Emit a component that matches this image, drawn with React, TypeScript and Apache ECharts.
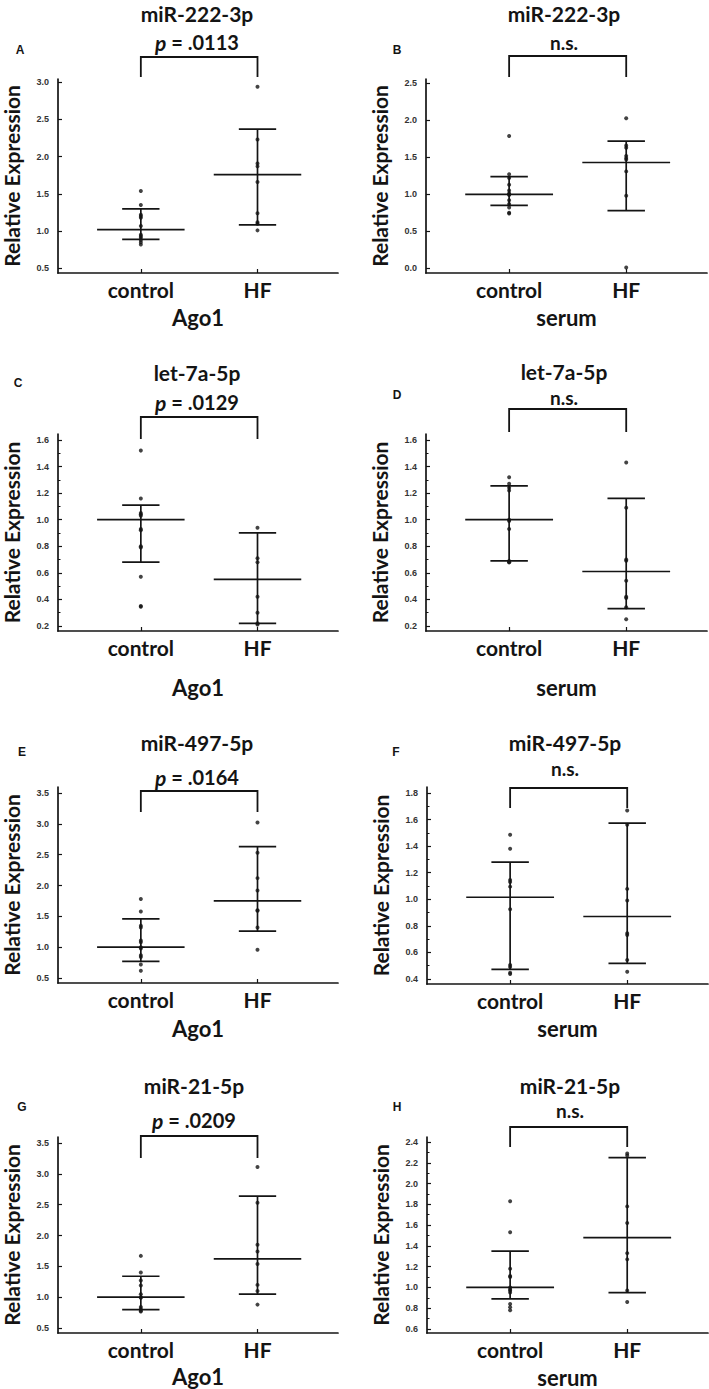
import React, { useEffect, useRef } from "react";
import * as echarts from "echarts";

// ---------- data ----------
const groups = ["control", "HF"];
const yAxisTitle = "Relative Expression";

const panelLetters = ["A", "B", "C", "D", "E", "F", "G", "H"];
const genes = ["miR-222-3p", "miR-222-3p", "let-7a-5p", "let-7a-5p", "miR-497-5p", "miR-497-5p", "miR-21-5p", "miR-21-5p"];
const sources = ["Ago1", "serum", "Ago1", "serum", "Ago1", "serum", "Ago1", "serum"];
const pValues = [".0113", null, ".0129", null, ".0164", null, ".0209", null];

// individual values (control, HF)
const aControl = [1.54, 1.35, 1.22, 1.2, 1.18, 1.07, 0.95, 0.93, 0.91, 0.88, 0.85, 0.82];
const aHF = [2.94, 2.23, 1.91, 1.87, 1.66, 1.24, 1.12, 1.1, 1.01];
const bControl = [1.79, 1.27, 1.22, 1.13, 1.05, 1.01, 1.0, 0.99, 0.92, 0.87, 0.82, 0.75, 0.74];
const bHF = [2.03, 1.66, 1.63, 1.52, 1.49, 1.47, 1.31, 0.98, 0.01];
const cControl = [1.52, 1.16, 1.05, 1.04, 1.03, 0.93, 0.92, 0.8, 0.79, 0.57, 0.35, 0.345];
const cHF = [0.94, 0.71, 0.68, 0.42, 0.3, 0.22, 0.21];
const dControl = [1.32, 1.27, 1.24, 1.22, 1.0, 0.99, 0.93, 0.69, 0.68, 0.68];
const dHF = [1.43, 1.09, 0.7, 0.69, 0.54, 0.42, 0.41, 0.34, 0.25];
const eControl = [1.78, 1.58, 1.35, 1.32, 1.11, 1.08, 1.0, 0.98, 0.87, 0.84, 0.72, 0.62];
const eHF = [3.02, 2.53, 2.12, 1.92, 1.6, 1.59, 1.32, 0.96];
const fControl = [1.485, 1.38, 1.145, 1.13, 1.095, 0.925, 0.505, 0.49, 0.447, 0.437];
const fHF = [1.668, 1.56, 1.078, 0.99, 0.744, 0.731, 0.543, 0.455];
const gControl = [1.67, 1.4, 1.27, 1.19, 1.05, 1.0, 0.99, 0.84, 0.81, 0.78, 0.77];
const gHF = [3.11, 2.53, 1.85, 1.74, 1.54, 1.2, 1.1, 0.88];
const hControl = [1.83, 1.53, 1.18, 1.11, 1.1, 1.0, 0.98, 0.97, 0.95, 0.84, 0.81, 0.78];
const hHF = [2.29, 2.27, 1.78, 1.62, 1.33, 1.27, 0.97, 0.86];

// summary bars: [centre, lower, upper]
const aStats = [[1.02, 0.89, 1.3], [1.76, 1.085, 2.37]];
const bStats = [[1.0, 0.85, 1.24], [1.43, 0.78, 1.72]];
const cStats = [[1.0, 0.68, 1.11], [0.55, 0.22, 0.9]];
const dStats = [[1.0, 0.69, 1.255], [0.61, 0.33, 1.16]];
const eStats = [[1.0, 0.77, 1.46], [1.75, 1.26, 2.63]];
const fStats = [[1.015, 0.472, 1.28], [0.87, 0.518, 1.573]];
const gStats = [[1.0, 0.8, 1.34], [1.62, 1.05, 2.64]];
const hStats = [[1.0, 0.89, 1.35], [1.48, 0.95, 2.25]];

// tick labels
const ticksA = [0.5, 1.0, 1.5, 2.0, 2.5, 3.0];
const ticksB = [0.0, 0.5, 1.0, 1.5, 2.0, 2.5];
const ticksCD = [0.2, 0.4, 0.6, 0.8, 1.0, 1.2, 1.4, 1.6];
const ticksEG = [0.5, 1.0, 1.5, 2.0, 2.5, 3.0, 3.5];
const ticksF = [0.4, 0.6, 0.8, 1.0, 1.2, 1.4, 1.6, 1.8];
const ticksH = [0.6, 0.8, 1.0, 1.2, 1.4, 1.6, 1.8, 2.0, 2.2, 2.4];

const controls = [aControl, bControl, cControl, dControl, eControl, fControl, gControl, hControl];
const hfs = [aHF, bHF, cHF, dHF, eHF, fHF, gHF, hHF];
const stats = [aStats, bStats, cStats, dStats, eStats, fStats, gStats, hStats];
const ticks = [ticksA, ticksB, ticksCD, ticksCD, ticksEG, ticksF, ticksEG, ticksH];

// ---------- layout ----------
const W = 709;
const H = 1389;
const X_MIN = -0.71;
const X_MAX = 1.69;
const GRID_W = 281;
const FONT = "Lato";
const INK = "#141414";

type Lay = {
  left: number; top: number; height: number; yMin: number; yMax: number;
  tx: number; ty: number; py: number; lx: number; ly: number;
  bTop: number; bBot: number; nameGap: number; minor: boolean;
};
const layout: Lay[] = [
  { left: 57, top: 79, height: 194, yMin: 0.437, yMax: 3.044, tx: 197, ty: 13, py: 42, lx: 20, ly: 50, bTop: -22, bBot: -2, nameGap: 33, minor: false },
  { left: 426, top: 79, height: 194, yMin: -0.065, yMax: 2.56, tx: 564, ty: 13, py: 42, lx: 397, ly: 50, bTop: -23, bBot: -2, nameGap: 33, minor: false },
  { left: 57, top: 434, height: 197, yMin: 0.162, yMax: 1.645, tx: 197, ty: 372, py: 402, lx: 18, ly: 383, bTop: -17, bBot: 5, nameGap: 45, minor: true },
  { left: 426, top: 434, height: 197, yMin: 0.162, yMax: 1.645, tx: 564, ty: 371, py: 397, lx: 397, ly: 395, bTop: -25, bBot: -2, nameGap: 45, minor: true },
  { left: 57, top: 787, height: 196, yMin: 0.42, yMax: 3.597, tx: 197, ty: 742, py: 777, lx: 22, ly: 752, bTop: 4, bBot: 25, nameGap: 34, minor: false },
  { left: 427, top: 787, height: 197, yMin: 0.362, yMax: 1.845, tx: 565, ty: 742, py: 768, lx: 396, ly: 752, bTop: 1, bBot: 21, nameGap: 33, minor: true },
  { left: 57, top: 1137, height: 196, yMin: 0.42, yMax: 3.597, tx: 194, ty: 1085, py: 1120, lx: 22, ly: 1107, bTop: -1, bBot: 21, nameGap: 32, minor: false },
  { left: 427, top: 1137, height: 196, yMin: 0.561, yMax: 2.448, tx: 570, ty: 1085, py: 1110, lx: 397, ly: 1107, bTop: -10, bBot: 10, nameGap: 33, minor: true },
];

function buildOption() {
  const grid: any[] = [];
  const xAxis: any[] = [];
  const yAxis: any[] = [];
  const series: any[] = [];
  const graphic: any[] = [];

  layout.forEach((L, i) => {
    grid.push({ left: L.left, top: L.top, width: GRID_W, height: L.height });
    xAxis.push({
      gridIndex: i, type: "value", min: X_MIN, max: X_MAX,
      axisLine: { show: true, onZero: false, lineStyle: { color: INK, width: 1.7 } },
      axisTick: { show: true, inside: true, length: 4, customValues: [0, 1], lineStyle: { color: INK, width: 1.2 } },
      axisLabel: {
        customValues: [0, 1], formatter: (v: number) => groups[Math.round(v)] || "",
        fontFamily: FONT, fontWeight: "bold", fontSize: 21, color: INK, margin: 6,
      },
      splitLine: { show: false },
      name: sources[i], nameLocation: "middle", nameGap: L.nameGap,
      nameTextStyle: { fontFamily: FONT, fontWeight: "bold", fontSize: 22, color: INK },
    });
    const yIdx = yAxis.length;
    yAxis.push({
      gridIndex: i, type: "value", position: "left", min: L.yMin, max: L.yMax,
      axisLine: { show: true, onZero: false, lineStyle: { color: INK, width: 1.7 } },
      axisTick: { show: true, inside: true, length: 4, customValues: ticks[i], lineStyle: { color: INK, width: 1.2 } },
      axisLabel: {
        customValues: ticks[i], formatter: (v: number) => v.toFixed(1),
        fontFamily: "Liberation Sans", fontWeight: "bold", fontSize: 9, color: "#333333", margin: 9,
      },
      splitLine: { show: false },
      name: yAxisTitle, nameLocation: "middle", nameGap: 36,
      nameTextStyle: { fontFamily: FONT, fontWeight: "bold", fontSize: 21, color: INK },
    });
    if (L.minor) {
      const t = ticks[i];
      const minorVals = t.slice(1).map((v, k) => (v + t[k]) / 2);
      yAxis.push({
        gridIndex: i, type: "value", position: "left", offset: 0, min: L.yMin, max: L.yMax,
        axisLine: { show: false, onZero: false },
        axisTick: { show: true, inside: true, length: 2.5, customValues: minorVals, lineStyle: { color: INK, width: 1 } },
        axisLabel: { show: false }, splitLine: { show: false },
      });
    }

    // points
    series.push({
      type: "scatter", xAxisIndex: i, yAxisIndex: yIdx, symbolSize: 4, silent: true,
      itemStyle: { color: INK },
      data: [...controls[i].map((v) => [0, v]), ...hfs[i].map((v) => [1, v])],
    });

    // centre / spread bars
    series.push({
      type: "custom", xAxisIndex: i, yAxisIndex: yIdx, silent: true, clip: false,
      encode: { x: 0, y: [1, 2, 3] },
      data: stats[i].map((s, g) => [g, s[0], s[1], s[2]]),
      renderItem: (_p: any, api: any) => {
        const x = api.value(0), c = api.value(1), lo = api.value(2), hi = api.value(3);
        const a1 = api.coord([x - 0.375, c]), a2 = api.coord([x + 0.375, c]);
        const l1 = api.coord([x - 0.16, lo]), l2 = api.coord([x + 0.16, lo]);
        const h1 = api.coord([x - 0.16, hi]), h2 = api.coord([x + 0.16, hi]);
        const v1 = api.coord([x, lo]), v2 = api.coord([x, hi]);
        const style = { stroke: INK, lineWidth: 1.7, fill: null };
        return {
          type: "group",
          children: [
            { type: "line", shape: { x1: a1[0], y1: a1[1], x2: a2[0], y2: a2[1] }, style },
            { type: "line", shape: { x1: l1[0], y1: l1[1], x2: l2[0], y2: l2[1] }, style },
            { type: "line", shape: { x1: h1[0], y1: h1[1], x2: h2[0], y2: h2[1] }, style },
            { type: "line", shape: { x1: v1[0], y1: v1[1], x2: v2[0], y2: v2[1] }, style },
          ],
        };
      },
    });

    // significance bracket
    series.push({
      type: "custom", xAxisIndex: i, yAxisIndex: yIdx, silent: true, clip: false,
      data: [[0, L.yMax]],
      renderItem: (_p: any, api: any) => {
        const p0 = api.coord([0, L.yMax]);
        const p1 = api.coord([1, L.yMax]);
        const top = p0[1] + L.bTop;
        const bot = p0[1] + L.bBot;
        return {
          type: "polyline",
          shape: { points: [[p0[0], bot], [p0[0], top], [p1[0], top], [p1[0], bot]] },
          style: { stroke: INK, lineWidth: 1.8, fill: null },
        };
      },
    });

    // texts
    graphic.push({
      type: "text", x: L.tx, y: L.ty, silent: true,
      style: { text: genes[i], fontFamily: FONT, fontWeight: "bold", fontSize: 21, fill: INK, align: "center", verticalAlign: "middle" },
    });
    const pv = pValues[i];
    graphic.push({
      type: "text", x: L.tx, y: L.py, silent: true,
      style: pv
        ? {
            text: "{i|p} = " + pv,
            rich: { i: { fontFamily: FONT, fontStyle: "italic", fontWeight: "bold", fontSize: 21, fill: INK } },
            fontFamily: FONT, fontWeight: "bold", fontSize: 20, fill: INK, align: "center", verticalAlign: "middle",
          }
        : { text: "n.s.", fontFamily: FONT, fontWeight: "bold", fontSize: 19, fill: INK, align: "center", verticalAlign: "middle" },
    });
    graphic.push({
      type: "text", x: L.lx, y: L.ly, silent: true,
      style: { text: panelLetters[i], fontFamily: "Liberation Sans", fontWeight: "bold", fontSize: 12, fill: INK, align: "center", verticalAlign: "middle" },
    });
  });

  return { animation: false, backgroundColor: "#ffffff", grid, xAxis, yAxis, series, graphic };
}

export default function App() {
  const ref = useRef<HTMLDivElement>(null);
  useEffect(() => {
    document.body.style.margin = "0";
    if (!ref.current) return;
    const chart = echarts.init(ref.current, undefined, { renderer: "svg" });
    chart.setOption(buildOption() as any);
    return () => chart.dispose();
  }, []);
  return <div ref={ref} style={{ position: "absolute", left: 0, top: 0, width: W, height: H }} />;
}
